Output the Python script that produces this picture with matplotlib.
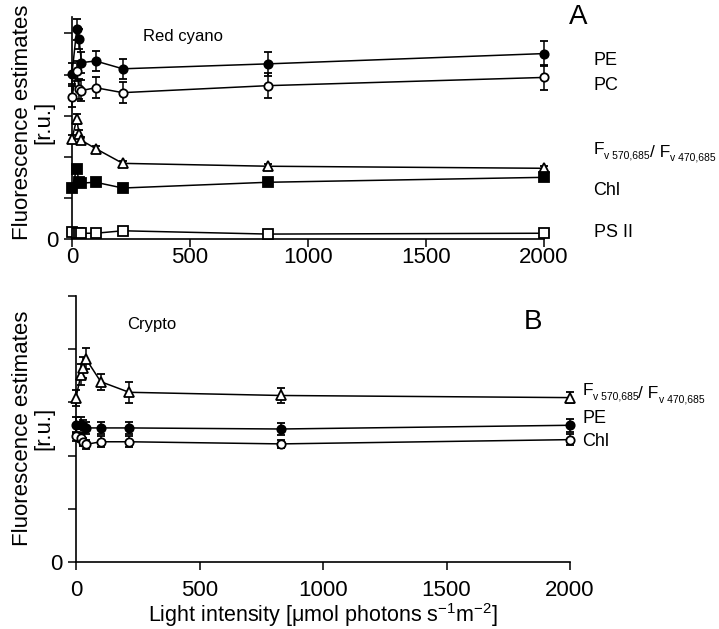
import matplotlib
matplotlib.use("Agg")
import matplotlib.pyplot as plt
import numpy as np

plt.rcParams['font.family'] = ['Liberation Sans', 'DejaVu Sans']
plt.rcParams['mathtext.fontset'] = 'custom'
plt.rcParams['mathtext.rm'] = 'Liberation Sans'
plt.rcParams['mathtext.it'] = 'Liberation Sans'

# light intensities (umol photons s-1 m-2)
light = [0, 20, 30, 40, 100, 215, 830, 2000]

# panel A - red cyano
pe_a = [4.02, 5.10, 4.87, 4.29, 4.33, 4.14, 4.26, 4.51]
pe_a_err = [0.25, 0.25, 0.25, 0.25, 0.25, 0.25, 0.3, 0.3]
pc_a = [3.46, 4.09, 3.65, 3.61, 3.68, 3.56, 3.73, 3.93]
pc_a_err = [0.25, 0.25, 0.25, 0.25, 0.25, 0.25, 0.3, 0.3]
fv_a = [2.44, 2.92, 2.56, 2.40, 2.20, 1.84, 1.77, 1.72]
fv_a_err = [0.1, 0.12, 0.1, 0.08, 0.06, 0.05, 0.05, 0.05]
chl_a = [1.24, 1.71, 1.38, 1.36, 1.38, 1.24, 1.38, 1.50]
chl_a_err = [0.1, 0.1, 0.1, 0.1, 0.08, 0.08, 0.08, 0.1]
psii_a = [0.17, 0.14, 0.14, 0.14, 0.14, 0.20, 0.12, 0.14]

# panel B - crypto
fv_b = [3.09, 3.52, 3.65, 3.82, 3.39, 3.19, 3.13, 3.09]
fv_b_err = [0.15, 0.2, 0.2, 0.2, 0.15, 0.2, 0.15, 0.1]
pe_b = [2.57, 2.57, 2.55, 2.52, 2.52, 2.52, 2.50, 2.57]
pe_b_err = [0.15, 0.15, 0.12, 0.12, 0.12, 0.12, 0.12, 0.12]
chl_b = [2.36, 2.33, 2.26, 2.21, 2.26, 2.26, 2.22, 2.30]
chl_b_err = [0.08, 0.08, 0.08, 0.08, 0.1, 0.1, 0.08, 0.1]

fig = plt.figure(figsize=(7.19, 6.29), dpi=100)
ax1 = fig.add_axes([72/719, 1-239/629, (544-72)/719, (239-17)/629])
ax2 = fig.add_axes([76/719, 1-562/629, (570-76)/719, (562-296)/629])


def series(ax, y, err, marker, filled, ms=6):
    fc = 'black' if filled else 'white'
    ax.plot(light, y, color='black', lw=1.1, zorder=2)
    ax.errorbar(light, y, yerr=err, fmt=marker, color='black', mfc=fc, mec='black',
                ms=ms, mew=1.3, ecolor='black', elinewidth=1.1, capsize=3,
                capthick=1.1, zorder=3, clip_on=False)


def fv_text(ax, x, y, big=12.5, small=7.5):
    # F_v 570,685 / F_v 470,685 built from pieces so the subscripts stay small
    t1 = ax.text(x, y, 'F', fontsize=big, va='center', clip_on=False)
    t2 = ax.annotate('v 570,685', xy=(1, 0.12), xycoords=t1, fontsize=small, va='center')
    t3 = ax.annotate('/ F', xy=(1, 0.5), xycoords=t2, fontsize=big, va='bottom')
    t3.set_y(0)
    ax.annotate('v 470,685', xy=(1, 0), xycoords=t3, fontsize=small, va='center',
                xytext=(0, 1.5), textcoords='offset points')


series(ax1, pe_a, pe_a_err, 'o', True)
series(ax1, pc_a, pc_a_err, 'o', False)
series(ax1, fv_a, fv_a_err, '^', False, ms=7)
series(ax1, chl_a, chl_a_err, 's', True, ms=6.5)
series(ax1, psii_a, None, 's', False, ms=6.5)

series(ax2, fv_b, fv_b_err, '^', False, ms=7)
series(ax2, pe_b, pe_b_err, 'o', True)
series(ax2, chl_b, chl_b_err, 'o', False)

for ax in (ax1, ax2):
    ax.set_xlim(0, 2000)
    ax.set_xticks([0, 500, 1000, 1500, 2000])
    ax.spines['top'].set_visible(False)
    ax.spines['right'].set_visible(False)
    ax.spines['left'].set_linewidth(1.2)
    ax.spines['bottom'].set_linewidth(1.2)
    ax.tick_params(direction='out', length=6, width=1.1, labelsize=16)

ax1.set_ylim(0, 5.4)
ax1.set_yticks([0, 1, 2, 3, 4, 5])
ax1.set_yticklabels(['0', '', '', '', '', ''])
ax2.set_ylim(0, 5)
ax2.set_yticks([0, 1, 2, 3, 4, 5])
ax2.set_yticklabels(['0', '', '', '', '', ''])
ax1.tick_params(axis='x', pad=0)
ax2.tick_params(axis='x', pad=7)

# right-hand series labels
ax1.text(2210, 4.33, 'PE', fontsize=13, va='center', clip_on=False)
ax1.text(2210, 3.73, 'PC', fontsize=13, va='center', clip_on=False)
fv_text(ax1, 2210, 2.18)
ax1.text(2210, 1.19, 'Chl', fontsize=13, va='center', clip_on=False)
ax1.text(2210, 0.15, 'PS II', fontsize=13, va='center', clip_on=False)

fv_text(ax2, 2050, 3.22)
ax2.text(2050, 2.69, 'PE', fontsize=13, va='center', clip_on=False)
ax2.text(2050, 2.26, 'Chl', fontsize=13, va='center', clip_on=False)

fig.text(578/719, 1-17/629, 'A', fontsize=20, ha='center', va='center')
fig.text(533/719, 1-322/629, 'B', fontsize=20, ha='center', va='center')
fig.text(183/719, 1-37/629, 'Red cyano', fontsize=12, ha='center', va='center')
fig.text(152/719, 1-325/629, 'Crypto', fontsize=12, ha='center', va='center')

fig.text(33/719, 1-122/629, 'Fluorescence estimates\n[r.u.]', fontsize=16,
         rotation=90, ha='center', va='center', linespacing=1.0)
fig.text(33/719, 1-428/629, 'Fluorescence estimates\n[r.u.]', fontsize=16,
         rotation=90, ha='center', va='center', linespacing=1.0)

ax2.set_xlabel(r'Light intensity [$\mathrm{\mu}$mol photons s$^{\mathrm{-1}}$m$^{\mathrm{-2}}$]',
               fontsize=15.5, labelpad=0)

fig.savefig('out.png', dpi=100)
